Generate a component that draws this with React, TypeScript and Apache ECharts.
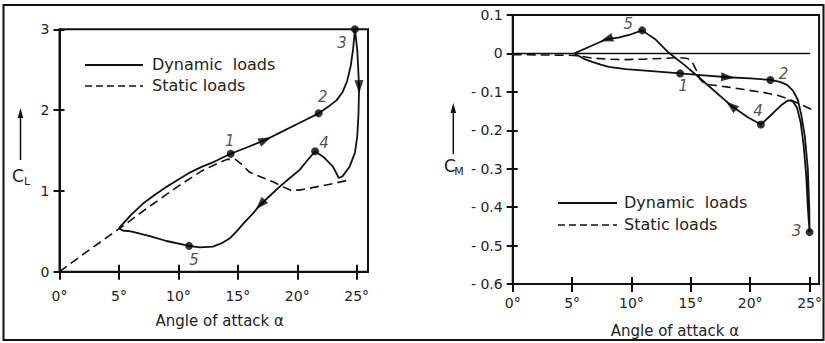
import React, { useEffect, useRef } from 'react';
import * as echarts from 'echarts';

// ---------- data ----------
const angleTicks = [0, 5, 10, 15, 20, 25];
const clTicks = [0, 1, 2, 3];
const legendNames = ['Dynamic  loads', 'Static loads'];
const keyLabels = ['1', '2', '3', '4', '5'];

const staticCL = [
  [0, 0], [2.5, 0.27], [5, 0.53], [7.5, 0.8], [10, 1.06], [12, 1.25], [13.3, 1.34], [14.1, 1.39],
  [14.8, 1.39], [15.3, 1.33], [16, 1.23], [17, 1.17], [18, 1.11], [18.8, 1.05], [19.4, 1.01],
  [20.2, 1.01], [21.6, 1.05], [23, 1.09], [24.5, 1.14],
];

const dynamicCL = [
  [5.0, 0.54], [6.0, 0.7], [7.0, 0.84], [8.0, 0.95], [9.0, 1.05], [10.0, 1.14], [11.0, 1.23],
  [12.0, 1.3], [13.0, 1.36], [14.4, 1.46], [15.8, 1.54], [17.3, 1.63], [18.8, 1.74], [20.3, 1.85],
  [21.8, 1.96], [22.6, 2.04], [23.3, 2.12], [23.8, 2.22], [24.2, 2.36], [24.5, 2.55], [24.7, 2.76],
  [24.85, 3.0], [25.05, 2.74], [25.2, 2.29], [25.15, 1.95], [25.05, 1.68], [24.85, 1.47],
  [24.4, 1.3], [23.8, 1.18], [23.5, 1.16], [23.0, 1.3], [22.2, 1.42], [21.5, 1.49], [20.8, 1.37],
  [20.2, 1.26], [19.3, 1.15], [18.5, 1.05], [17.7, 0.94], [16.9, 0.83], [16.2, 0.71], [15.5, 0.6],
  [14.9, 0.5], [14.3, 0.41], [13.6, 0.35], [12.9, 0.31], [11.8, 0.3], [10.9, 0.32], [9.0, 0.38],
  [7.6, 0.44], [6.0, 0.5], [5.3, 0.51], [5.0, 0.54],
];
const keyPointsCL = [[14.4, 1.46], [21.8, 1.96], [24.85, 3.0], [21.5, 1.49], [10.9, 0.32]];
const arrowIndexCL = [11, 23, 38];

const cmTicks = [0.1, 0, -0.1, -0.2, -0.3, -0.4, -0.5, -0.6];
const zeroCM = [[0, 0], [25.05, 0]];
const staticCM = [
  [0, -0.003], [5.2, -0.005], [6.7, -0.012], [8, -0.015], [9.5, -0.016], [11, -0.015],
  [12.5, -0.013], [14, -0.011], [14.7, -0.013], [15.1, -0.022], [15.4, -0.04], [15.8, -0.068],
  [16.2, -0.081], [17, -0.083], [18, -0.087], [19.5, -0.094], [21.2, -0.102], [22.3, -0.109],
  [23.2, -0.118], [24.2, -0.132], [25.2, -0.146],
];
const dynamicCM = [
  [5.2, 0.0], [6.0, -0.014], [6.7, -0.022], [7.4, -0.029], [8.1, -0.035], [9.5, -0.041],
  [10.9, -0.044], [12.5, -0.048], [14.1, -0.052], [16.1, -0.057], [18.1, -0.062], [20.0, -0.065],
  [21.7, -0.069], [22.5, -0.074], [23.1, -0.082], [23.6, -0.097], [24.0, -0.12], [24.3, -0.16],
  [24.6, -0.216], [24.85, -0.3], [24.97, -0.4], [25.0, -0.465], [24.85, -0.4], [24.72, -0.32],
  [24.5, -0.24], [24.25, -0.18], [23.95, -0.142], [23.6, -0.125], [23.2, -0.122], [22.6, -0.135],
  [22.0, -0.153], [20.9, -0.185], [19.8, -0.166], [18.4, -0.136], [16.7, -0.09], [15.6, -0.06],
  [14.5, -0.031], [13.1, 0.003], [12.0, 0.037], [10.9, 0.06], [9.8, 0.048], [8.9, 0.041],
  [7.9, 0.037], [6.5, 0.018], [5.2, 0.0],
];
const keyPointsCM = [[14.1, -0.052], [21.7, -0.069], [25.0, -0.465], [20.9, -0.185], [10.9, 0.06]];
const arrowIndexCM = [10, 33, 42];

// ---------- styles ----------
const INK = '#111';
const TXT = '#222';
const FONT = '"DejaVu Sans", sans-serif';
const labelOffsetsCL = [[-1, -13], [4, -16], [-13, 14], [9, -8], [5, 14]];
const labelOffsetsCM = [[3, 13], [13, -6], [-13, -1], [-3, -14], [-14, -6]];

function fmtAngle(v: number) {
  return Math.abs(v - Math.round(v / 5) * 5) < 1e-6 ? `${Math.round(v)}°` : '';
}
function fmtCM(v: number) {
  const r = Math.round(v * 10) / 10;
  if (Math.abs(r) < 1e-9) return '0';
  return r < 0 ? `- ${Math.abs(r).toFixed(1)}` : r.toFixed(1);
}

function xAxes(gridIndex: number, max: number, nameGap: number, padLeft: number, margin: number) {
  const base = {
    gridIndex, type: 'value', min: 0, max, interval: 5, position: 'bottom',
    splitLine: { show: false },
  };
  return [
    {
      ...base,
      axisLine: { show: true, onZero: false, lineStyle: { color: INK, width: 2 } },
      axisTick: { show: true, inside: false, length: 8, customValues: angleTicks, lineStyle: { color: INK, width: 2 } },
      axisLabel: { show: true, customValues: angleTicks, formatter: fmtAngle, margin, fontSize: 14, color: TXT, fontFamily: FONT },
      name: 'Angle of attack α', nameLocation: 'middle', nameGap,
      nameTextStyle: { fontSize: 15, color: TXT, fontFamily: FONT, padding: [0, 0, 0, padLeft] },
    },
    {
      ...base,
      axisLine: { show: false, onZero: false },
      axisTick: { show: true, inside: true, length: 7, customValues: angleTicks, lineStyle: { color: INK, width: 2 } },
      axisLabel: { show: false },
    },
  ];
}

function yAxes(gridIndex: number, min: number, max: number, interval: number, fmt: any) {
  const base = { gridIndex, type: 'value', min, max, interval, position: 'left', splitLine: { show: false } };
  return [
    {
      ...base,
      axisLine: { show: true, onZero: false, lineStyle: { color: INK, width: 2 } },
      axisTick: { show: true, inside: false, length: 6, lineStyle: { color: INK, width: 2 } },
      axisLabel: { show: true, formatter: fmt, margin: 10, fontSize: 14, color: TXT, fontFamily: FONT },
    },
    {
      ...base,
      axisLine: { show: false, onZero: false },
      axisTick: { show: true, inside: true, length: 5, lineStyle: { color: INK, width: 2 } },
      axisLabel: { show: false },
    },
  ];
}

function keySeries(points: number[][], offsets: number[][], xi: number, yi: number) {
  return {
    type: 'scatter', xAxisIndex: xi, yAxisIndex: yi, symbol: 'circle', symbolSize: 8,
    itemStyle: { color: '#000' }, z: 5,
    data: points.map((p, i) => ({
      value: p,
      label: {
        show: true, formatter: keyLabels[i], position: 'inside', offset: offsets[i],
        fontSize: 15, fontStyle: 'italic', color: TXT, fontFamily: FONT,
      },
    })),
  };
}

function arrowSeries(curve: number[][], idx: number[], xi: number, yi: number, rot: number[]) {
  return {
    id: `arrows${xi}`,
    type: 'scatter', xAxisIndex: xi, yAxisIndex: yi, symbol: 'triangle', symbolSize: [9, 13], z: 6,
    itemStyle: { color: '#000' },
    data: idx.map((k, i) => ({ value: curve[k], symbolRotate: rot[i] || 0 })),
  };
}

function legendGraphics(x0: number, x1: number, tx: number, y1: number, y2: number) {
  return [
    { type: 'line', shape: { x1: x0, y1, x2: x1, y2: y1 }, style: { stroke: INK, lineWidth: 1.8 } },
    { type: 'line', shape: { x1: x0, y1: y2, x2: x1, y2 }, style: { stroke: INK, lineWidth: 1.6, lineDash: [7, 4] } },
    { type: 'text', x: tx, y: y1 - 1, style: { text: legendNames[0], font: `16px ${FONT}`, fill: TXT, textVerticalAlign: 'middle' } },
    { type: 'text', x: tx, y: y2 - 1, style: { text: legendNames[1], font: `16px ${FONT}`, fill: TXT, textVerticalAlign: 'middle' } },
  ];
}

// axis symbol (C with subscript) under an upward arrow
function yName(ax: number, tipY: number, botY: number, cx: number, cy: number, sub: string) {
  return [
    { type: 'line', shape: { x1: ax, y1: botY, x2: ax, y2: tipY + 6 }, style: { stroke: INK, lineWidth: 1.5 } },
    { type: 'polygon', shape: { points: [[ax, tipY], [ax - 2.8, tipY + 10], [ax + 2.8, tipY + 10]] }, style: { fill: INK } },
    { type: 'text', x: cx, y: cy, style: { text: 'C', font: `17px ${FONT}`, fill: TXT, textAlign: 'center', textVerticalAlign: 'middle' } },
    { type: 'text', x: cx + 9, y: cy + 5, style: { text: sub, font: `11px ${FONT}`, fill: TXT, textAlign: 'center', textVerticalAlign: 'middle' } },
  ];
}

export default function App() {
  const ref = useRef<HTMLDivElement>(null);
  useEffect(() => {
    if (!ref.current) return;
    const chart = echarts.init(ref.current, null, { renderer: 'svg' });
    const lineCommon = { type: 'line', showSymbol: false, symbol: 'none', smooth: false };
    const option: any = {
      animation: false,
      backgroundColor: '#fff',
      grid: [
        { left: 59.5, top: 29.3, width: 308.5, height: 242.4, show: true, borderColor: INK, borderWidth: 2, containLabel: false },
        { left: 512.7, top: 15, width: 309.5, height: 276.7, show: true, borderColor: INK, borderWidth: 2, containLabel: false },
      ],
      xAxis: [
        ...xAxes(0, 25.95, 42, 12, 17),
        ...xAxes(1, 25.8, 39, 18, 12),
      ],
      yAxis: [
        ...yAxes(0, 0, 3, 1, (v: number) => (clTicks.includes(v) ? String(v) : '')),
        ...yAxes(1, -0.6, 0.1, 0.1, (v: number) => (cmTicks.some((t) => Math.abs(t - v) < 1e-6) ? fmtCM(v) : '')),
      ],
      series: [
        { ...lineCommon, name: legendNames[1], xAxisIndex: 0, yAxisIndex: 0, data: staticCL, lineStyle: { color: INK, width: 1.6, type: [9, 5] } },
        { ...lineCommon, name: legendNames[0], xAxisIndex: 0, yAxisIndex: 0, data: dynamicCL, lineStyle: { color: INK, width: 1.8 } },
        keySeries(keyPointsCL, labelOffsetsCL, 0, 0),
        arrowSeries(dynamicCL, arrowIndexCL, 0, 0, []),
        { ...lineCommon, name: 'zero', xAxisIndex: 2, yAxisIndex: 2, data: zeroCM, lineStyle: { color: INK, width: 1.6 } },
        { ...lineCommon, name: legendNames[1], xAxisIndex: 2, yAxisIndex: 2, data: staticCM, lineStyle: { color: INK, width: 1.6, type: [9, 5] } },
        { ...lineCommon, name: legendNames[0], xAxisIndex: 2, yAxisIndex: 2, data: dynamicCM, lineStyle: { color: INK, width: 1.8 } },
        keySeries(keyPointsCM, labelOffsetsCM, 2, 2),
        arrowSeries(dynamicCM, arrowIndexCM, 2, 2, []),
      ],
      graphic: [
        ...legendGraphics(85, 143, 152, 65, 86),
        ...legendGraphics(558, 617, 624, 203, 225),
        ...yName(20.5, 108, 160, 18, 176, 'L'),
        ...yName(453.3, 103, 154, 450, 166, 'M'),
        { type: 'rect', z: 100, shape: { x: 3.5, y: 5, width: 820, height: 335 }, style: { fill: 'none', stroke: INK, lineWidth: 2 } },
      ],
    };
    chart.setOption(option);

    const rotations = (curve: number[][], idx: number[], gridIndex: number) =>
      idx.map((k) => {
        const a = chart.convertToPixel({ gridIndex } as any, curve[k - 1]) as number[];
        const b = chart.convertToPixel({ gridIndex } as any, curve[k + 1]) as number[];
        const ang = (Math.atan2(-(b[1] - a[1]), b[0] - a[0]) * 180) / Math.PI;
        return ang - 90;
      });
    chart.setOption({
      series: [
        arrowSeries(dynamicCL, arrowIndexCL, 0, 0, rotations(dynamicCL, arrowIndexCL, 0)),
        arrowSeries(dynamicCM, arrowIndexCM, 2, 2, rotations(dynamicCM, arrowIndexCM, 1)),
      ],
    });
    return () => chart.dispose();
  }, []);
  return <div ref={ref} style={{ position: 'fixed', left: 0, top: 0, width: 825, height: 343, background: '#fff' }} />;
}
